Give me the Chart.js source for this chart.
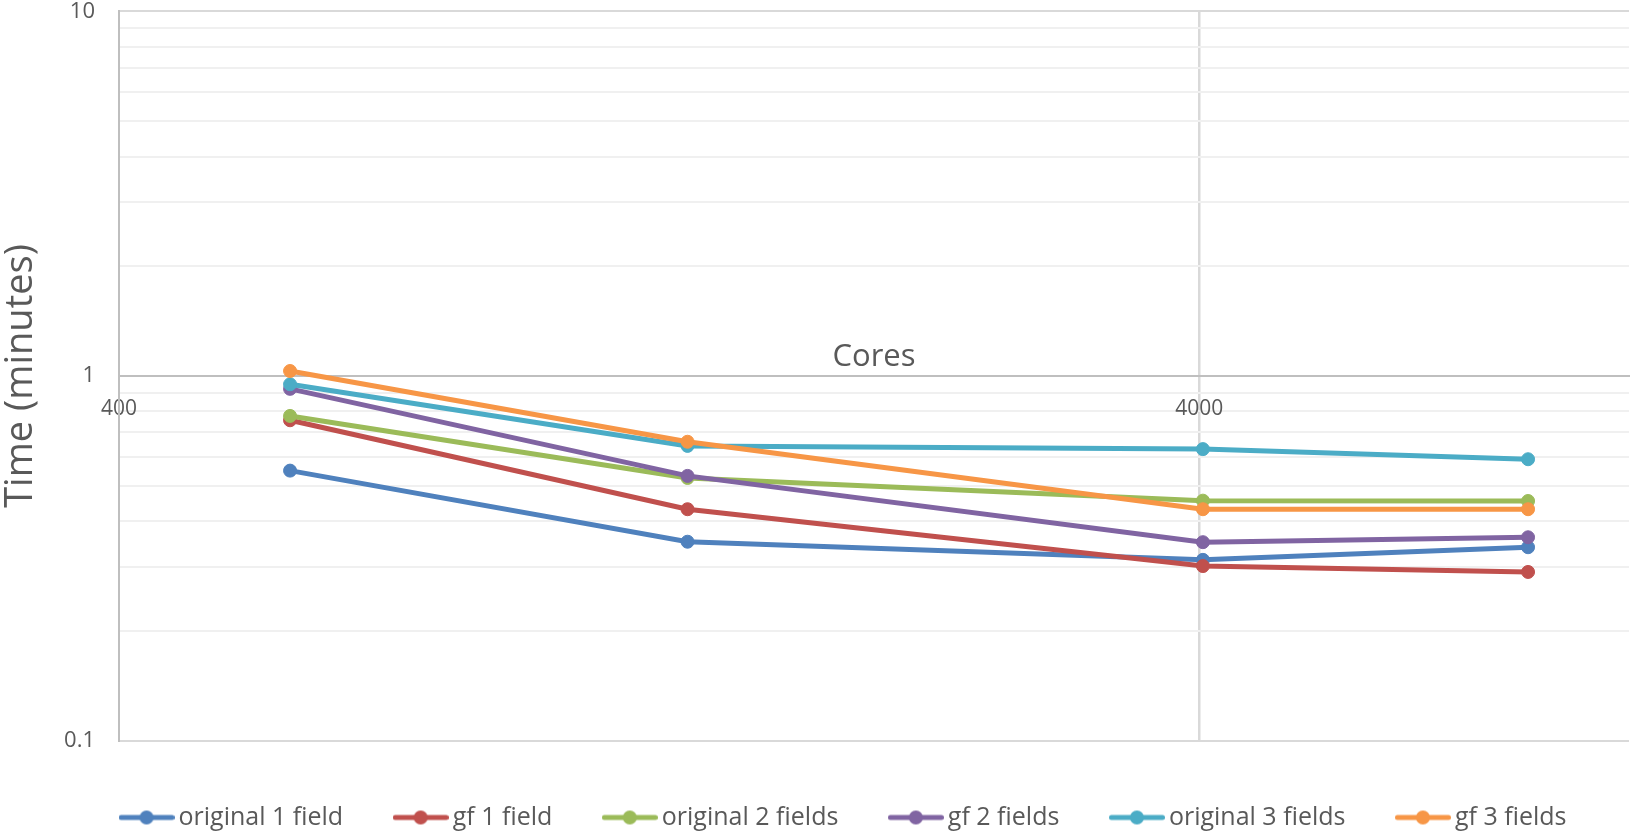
<!DOCTYPE html>
<html>
<head>
<meta charset="utf-8">
<script src="https://cdn.jsdelivr.net/npm/chart.js@4.4.1/dist/chart.umd.min.js"></script>
<style>
  html, body { margin: 0; padding: 0; background: #ffffff; }
  #wrap { width: 1630px; height: 837px; }
</style>
</head>
<body>
<div id="wrap"><canvas id="c" width="1630" height="837"></canvas></div>
<script>
// ---- data ----
const cores = [576, 1344, 4032, 8064];
const seriesNames = ["original 1 field", "gf 1 field", "original 2 fields", "gf 2 fields", "original 3 fields", "gf 3 fields"];
const original1 = [0.550, 0.351, 0.313, 0.339];
const gf1       = [0.756, 0.431, 0.301, 0.290];
const original2 = [0.777, 0.525, 0.455, 0.454];
const gf2       = [0.922, 0.532, 0.350, 0.361];
const original3 = [0.949, 0.643, 0.630, 0.591];
const gf3       = [1.032, 0.660, 0.431, 0.431];
const xTickValues = [400, 4000];
const yMajorTicks = [0.1, 1, 10];
const yMinorTicks = [0.2, 0.3, 0.4, 0.5, 0.6, 0.7, 0.8, 0.9, 2, 3, 4, 5, 6, 7, 8, 9];
const xTitle = "Cores";
const yTitle = "Time (minutes)";

const colors = ["#4F81BD", "#C0504D", "#9BBB59", "#8064A2", "#4BACC6", "#F79646"];
const allSeries = [original1, gf1, original2, gf2, original3, gf3];
const textColor = "#595959";
const FONT = "'Open Sans', 'Noto Sans', sans-serif";

function legendIcon(color) {
  const cv = document.createElement("canvas");
  cv.width = 56; cv.height = 16;
  const g = cv.getContext("2d");
  g.strokeStyle = color; g.lineWidth = 5; g.lineCap = "round";
  g.beginPath(); g.moveTo(2.5, 8); g.lineTo(53.5, 8); g.stroke();
  g.fillStyle = color;
  g.beginPath(); g.arc(28, 8, 7, 0, Math.PI * 2); g.fill();
  return cv;
}
const icons = colors.map(legendIcon);

const datasets = allSeries.map((vals, i) => ({
  label: seriesNames[i],
  data: cores.map((c, j) => ({ x: c, y: vals[j] })),
  borderColor: colors[i],
  backgroundColor: colors[i],
  pointBackgroundColor: colors[i],
  pointBorderColor: colors[i],
  borderWidth: 5,
  pointRadius: 6.5,
  pointBorderWidth: 1,
  pointHoverRadius: 6.5,
  tension: 0,
  fill: false,
  order: allSeries.length - i
}));

const isMajor = v => Math.abs(Math.log10(v) - Math.round(Math.log10(v))) < 1e-9;

const coresTitlePlugin = {
  id: "coresTitle",
  afterDraw(chart) {
    const { ctx, chartArea, scales } = chart;
    const y = scales.y.getPixelForValue(1) - 19;
    ctx.save();
    ctx.font = "31px " + FONT;
    ctx.fillStyle = textColor;
    ctx.textAlign = "center";
    ctx.textBaseline = "middle";
    ctx.fillText(xTitle, (chartArea.left + chartArea.right) / 2, y);
    ctx.restore();
  }
};

new Chart(document.getElementById("c"), {
  type: "line",
  data: { datasets },
  plugins: [coresTitlePlugin],
  options: {
    responsive: false,
    animation: false,
    events: [],
    layout: { autoPadding: false, padding: { left: 64.5, right: 1, top: 0, bottom: -3 } },
    plugins: {
      tooltip: { enabled: false },
      legend: {
        position: "bottom",
        align: "center",
        title: { display: true, text: "", padding: 0, font: { size: 6.5, lineHeight: 1 } },
        labels: {
          usePointStyle: true,
          pointStyleWidth: 39,
          padding: 58,
          color: textColor,
          font: { family: FONT, size: 25 },
          generateLabels(chart) {
            return chart.data.datasets.map((ds, i) => ({
              text: ds.label,
              pointStyle: icons[i],
              fillStyle: colors[i],
              strokeStyle: colors[i],
              lineWidth: 0,
              hidden: false,
              datasetIndex: i,
              fontColor: textColor
            }));
          }
        }
      }
    },
    scales: {
      x: {
        type: "logarithmic",
        position: { y: 1 },
        min: 400,
        max: 10000,
        afterBuildTicks(scale) { scale.ticks = xTickValues.map(v => ({ value: v })); },
        afterFit(scale) { scale.paddingLeft = 0; scale.paddingRight = 0; },
        ticks: {
          autoSkip: false, maxRotation: 0, padding: 20,
          color: textColor, font: { family: FONT, size: 21 },
          callback: v => String(v)
        },
        grid: {
          drawTicks: false,
          lineWidth: 2.5,
          color: ctx => (ctx.tick && ctx.tick.value === 4000) ? "#d9d9d9" : "rgba(0,0,0,0)"
        },
        border: { display: true, color: "#bfbfbf", width: 2 }
      },
      y: {
        type: "logarithmic",
        position: "left",
        min: 0.1,
        max: 10,
        afterBuildTicks(scale) {
          scale.ticks = yMajorTicks.concat(yMinorTicks).sort((a, b) => a - b).map(v => ({ value: v }));
        },
        afterFit(scale) { scale.width = 54.5; },
        ticks: {
          autoSkip: false, padding: 2,
          color: textColor, font: { family: FONT, size: 22, lineHeight: 0.86 },
          callback: v => isMajor(v) ? String(Math.round(v * 10) / 10) + "\u2002\u2002" : ""
        },
        grid: {
          drawTicks: false,
          lineWidth: 2,
          color: ctx => {
            const v = ctx.tick ? ctx.tick.value : 0;
            if (Math.abs(v - 1) < 1e-9) return "#bfbfbf";
            return isMajor(v) ? "#d9d9d9" : "#f0f0f0";
          }
        },
        border: { display: true, color: "#bfbfbf", width: 2 },
        title: {
          display: true, text: yTitle, color: textColor,
          font: { family: FONT, size: 38 },
          padding: { top: -66, bottom: 0 }
        }
      }
    }
  }
});
</script>
</body>
</html>
